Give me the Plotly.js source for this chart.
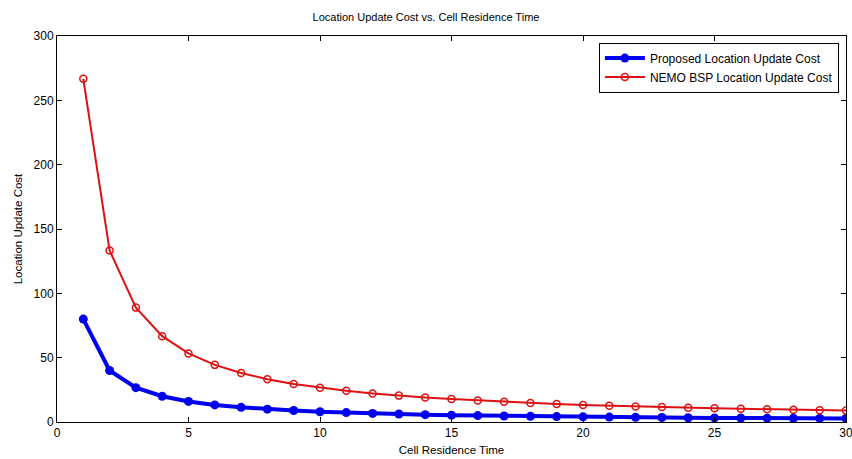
<!DOCTYPE html>
<html><head><meta charset="utf-8">
<script src="https://cdn.plot.ly/plotly-3.0.1.min.js"></script>
<style>body{margin:0;background:#fff}</style>
</head><body><div id="chart" style="width:852px;height:459px"></div>
<script>
const residenceTime = [1,2,3,4,5,6,7,8,9,10,11,12,13,14,15,16,17,18,19,20,21,22,23,24,25,26,27,28,29,30];
const proposedCost = [80,40,26.7,20,16,13.3,11.4,10,8.9,8,7.3,6.7,6.2,5.7,5.3,5,4.7,4.4,4.2,4,3.8,3.6,3.5,3.3,3.2,3.1,3,2.9,2.8,2.7];
const nemoCost = [266.7,133.3,88.9,66.7,53.3,44.4,38.1,33.3,29.6,26.7,24.2,22.2,20.5,19,17.8,16.7,15.7,14.8,14,13.3,12.7,12.1,11.6,11.1,10.7,10.3,9.9,9.5,9.2,8.9];
const xTicks = [0,5,10,15,20,25,30];
const yTicks = [0,50,100,150,200,250,300];

const font = {family:'"Liberation Sans", Arial, sans-serif', color:'#000'};
const traces = [
  {x: residenceTime, y: proposedCost, name:'Proposed Location Update Cost', mode:'lines+markers',
   line:{color:'#0000ee', width:4}, marker:{color:'#0000ee', size:9, symbol:'circle'}},
  {x: residenceTime, y: nemoCost, name:'NEMO BSP Location Update Cost', mode:'lines+markers',
   line:{color:'#dd1111', width:2}, marker:{color:'#dd1111', size:7, symbol:'circle-open', line:{width:1.5, color:'#dd1111'}}}
];
const axisBase = {showgrid:false, zeroline:false, showline:true, linecolor:'#000', linewidth:1, mirror:'ticks',
  ticks:'inside', ticklen:5, tickcolor:'#000', tickfont:Object.assign({size:12}, font), ticklabeloverflow:'allow'};
const layout = {
  width:852, height:459, paper_bgcolor:'#fff', plot_bgcolor:'#fff',
  margin:{l:57, r:6, t:36, b:37},
  font: font,
  title:{text:'Location Update Cost vs. Cell Residence Time', font:Object.assign({size:11}, font), x:0.5, xanchor:'center', y:0.963, yanchor:'middle'},
  xaxis: Object.assign({}, axisBase, {range:[0,30], tickvals:xTicks, ticktext:xTicks.map(String), automargin:false,
    title:{text:'Cell Residence Time', font:Object.assign({size:11.5}, font), standoff:6}}),
  yaxis: Object.assign({}, axisBase, {range:[0,300], tickvals:yTicks, ticktext:yTicks.map(String), automargin:false,
    title:{text:'Location Update Cost', font:Object.assign({size:11.5}, font), standoff:8}}),
  showlegend:true,
  legend:{x:0.991, xanchor:'right', y:0.983, yanchor:'top', bordercolor:'#000', borderwidth:1, bgcolor:'#fff',
    font:Object.assign({size:12}, font), tracegroupgap:0, itemwidth:40}
};
Plotly.newPlot('chart', traces, layout, {displayModeBar:false, staticPlot:true});
</script></body></html>
